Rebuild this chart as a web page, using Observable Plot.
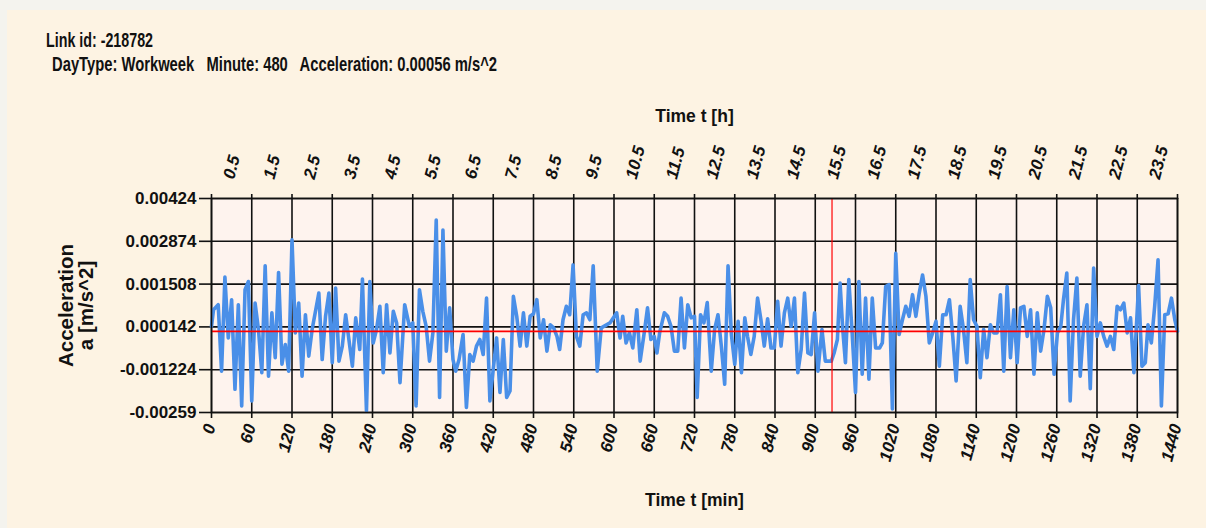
<!DOCTYPE html>
<html><head><meta charset="utf-8">
<script src="https://cdn.jsdelivr.net/npm/d3@7"></script>
<script src="https://cdn.jsdelivr.net/npm/@observablehq/plot@0.6"></script>
<style>
html,body{margin:0;padding:0;}
body{width:1206px;height:528px;background:#f4f3ee;position:relative;overflow:hidden;}
#panel{position:absolute;left:7px;top:10px;width:1199px;height:518px;background:#fdf3e3;}
.hd{position:absolute;font-family:"Liberation Sans",Arial,sans-serif;font-weight:bold;color:#111;white-space:pre;line-height:20px;font-size:20.5px;transform-origin:0 0;}
#t1{left:46px;top:30px;}
#t2{left:52px;top:54px;}
#chart{position:absolute;left:0;top:90px;}
</style>
</head><body>
<div id="panel"></div>
<div class="hd" id="t1"></div>
<div class="hd" id="t2"></div>
<div id="chart"></div>
<script>
const titleLine1 = "Link id: -218782";
const titleLine2 = "DayType: Workweek   Minute: 480   Acceleration: 0.00056 m/s^2";
const xTitleTop = "Time t [h]";
const xTitleBottom = "Time t [min]";
const yTitle = "Acceleration\na [m/s^2]";

const minuteTicks = [0,60,120,180,240,300,360,420,480,540,600,660,720,780,840,900,960,1020,1080,1140,1200,1260,1320,1380,1440];
const hourTicks = [0.5,1.5,2.5,3.5,4.5,5.5,6.5,7.5,8.5,9.5,10.5,11.5,12.5,13.5,14.5,15.5,16.5,17.5,18.5,19.5,20.5,21.5,22.5,23.5];
const yTicks = [0.00424,0.002874,0.001508,0.000142,-0.001224,-0.00259];
const yTickLabels = ["0.00424","0.002874","0.001508","0.000142","-0.001224","-0.00259"];
const refLevel = [0];
const markerMinute = [925];

// minute of day
const minutes = [0,3,10,15,20,25,30,35,40,45,50,55,60,65,70,75,80,85,90,95,100,105,110,115,120,125,130,135,140,145,150,160,165,170,175,180,185,190,195,200,210,215,221,225,231,236,241,246,251,256,261,266,271,276,281,288,
295,300,305,310,315,320,325,330,335,340,345,350,355,360,364,369,375,380,385,390,395,400,405,410,415,425,430,435,440,445,450,455,460,465,470,475,480,485,490,495,500,505,510,515,519,524,529,534,539,544,549,554,559,564,569,575,581,594,604,609,613,618,623,628,634,639,645,650,655,660,664,668,675,680,685,690,695,700,705,710,715,720,724,729,734,739,745,750,755,760,765,770,775,780,785,790,795,799,804,809,814,819,824,829,834,839,844,849,854,859,864,869,874,879,884,889,894,899,904,
910,915,920,924,928,933,937,941,945,950,955,960,965,970,975,980,985,990,996,1000,1005,1010,1015,1020,1025,1030,1035,1040,1045,1050,1055,1060,1065,1070,1075,1080,1085,1090,1095,1100,1105,1110,1116,1121,1126,1131,1136,1141,1146,1151,1156,1161,1166,1171,1176,1181,1186,1191,1196,1201,1206,1211,1216,1221,1226,1231,1236,1241,1246,1251,1256,1261,1266,1270,1275,1280,1285,1290,1295,1300,1305,1310,1315,1320,1325,1330,1335,1340,1345,1350,1355,1360,1365,1370,1375,1382,1387,1392,1396,1401,1406,1411,1416,1421,1426,1431,1436,1440];
// acceleration in 10^-3 m/s^2
const accelMilli = [0.16,0.69,0.85,-1.27,1.73,-0.21,1.01,-1.85,0.85,-2.38,1.33,1.59,-2.22,0.90,0.06,-1.32,2.09,-1.43,0.59,-0.84,1.88,-1.05,-0.42,-1.27,2.92,-0.05,0.90,-1.43,0.53,-0.79,0.06,1.22,-0.90,0.48,1.22,-1.00,1.38,-0.95,-0.47,0.53,-1.11,0.43,-0.58,1.67,-2.54,1.59,-0.37,0.06,0.80,-1.32,0.85,-0.69,0.64,0.27,-1.64,0.85,
0.16,0.27,-2.38,1.33,0.64,0.16,-0.95,-0.05,3.55,-2.11,3.23,-0.63,0.75,-0.90,-1.27,-0.90,-0.10,-2.43,-0.74,-0.95,-0.47,-0.26,-0.74,1.06,-2.22,-0.21,-1.95,-0.26,-2.11,-1.90,1.12,0.48,-0.47,0.59,-0.47,0.48,0.56,1.01,-0.21,0.37,-0.63,0.21,0.11,-0.16,-0.58,0.37,0.80,0.53,2.12,-0.16,-0.47,0.53,0.59,0.37,2.09,-1.27,0.11,0.27,0.59,-0.21,0.48,-0.37,-0.05,-0.53,0.69,-0.95,-0.05,0.75,-0.26,-0.16,-0.69,-0.05,0.59,0.48,0.16,-0.63,-0.63,1.06,-0.53,0.85,0.43,0.48,-2.11,0.53,0.27,0.92,-1.27,0.06,0.53,-0.47,-1.69,2.09,-0.10,-1.05,0.32,-1.32,0.43,-0.16,-0.74,-0.16,1.06,0.37,-0.47,0.40,-0.53,-0.53,0.96,-0.47,0.59,1.06,0.16,1.06,-1.32,-0.58,1.22,-0.69,-0.74,0.59,-1.27,
0.06,-0.95,-0.95,-0.95,-0.70,-0.26,1.54,0.06,-1.00,1.65,-0.05,-1.95,1.59,-1.37,1.06,-1.53,1.06,-0.53,-0.53,-0.37,1.43,1.49,-2.48,2.49,-0.10,0.37,0.80,0.48,1.17,0.48,1.22,1.80,1.12,-0.37,-0.05,0.32,-1.11,0.53,0.53,1.01,-0.16,-1.58,0.80,0.06,-1.00,1.65,0.37,0.16,-1.48,0.06,-0.84,0.21,-0.05,-0.05,1.17,-1.27,1.43,-0.84,0.69,-1.00,0.75,0.80,-0.16,0.69,-1.37,0.59,-0.63,0.06,1.12,0.75,-1.37,-0.05,0.16,1.01,1.86,-2.22,0.37,1.70,-1.43,0.16,0.85,-1.83,2.02,-0.16,0.27,-0.16,-0.47,-0.16,-0.58,0.80,0.69,0.90,-0.05,0.43,-1.32,1.46,-1.11,-1.00,0.21,-0.37,0.80,2.28,-2.38,0.53,0.56,1.06,0.37,0.00];

const series = minutes.map((m, i) => ({minute: m, accel: accelMilli[i] / 1000}));
const yLabelMap = new Map(yTicks.map((v, i) => [v, yTickLabels[i]]));

function fitWidth(id, text, target) {
  const el = document.getElementById(id);
  el.textContent = text;
  const w = el.getBoundingClientRect().width;
  el.style.transform = `scaleX(${target / w})`;
}
fitWidth("t1", titleLine1, 107);
fitWidth("t2", titleLine2, 445);

const sans = '"Liberation Sans",Arial,sans-serif';
const ink = "#111";

const chart = Plot.plot({
  width: 1206,
  height: 438,
  marginLeft: 211,
  marginRight: 29,
  marginTop: 108,
  marginBottom: 116,
  x: {domain: [0, 1440]},
  y: {domain: [-0.00259, 0.00424]},
  style: {background: "transparent", color: ink, fontFamily: sans, fontWeight: "bold", overflow: "visible"},
  marks: [
    Plot.frame({fill: "#fef3ee"}),
    Plot.ruleX(minuteTicks, {stroke: ink, strokeWidth: 1.6}),
    Plot.ruleY(yTicks, {stroke: ink, strokeWidth: 1.6}),
    Plot.axisX({anchor: "bottom", ticks: minuteTicks, tickSize: 6, tickFormat: () => "", stroke: ink, strokeWidth: 1.6, label: null}),
    Plot.axisX({anchor: "top", ticks: minuteTicks, tickSize: 5, tickFormat: () => "", stroke: ink, strokeWidth: 1.6, label: null}),
    Plot.axisY({anchor: "left", ticks: yTicks, tickSize: 12, tickPadding: 3, tickFormat: d => yLabelMap.get(d), fontSize: 17, fontFamily: sans, fontWeight: "bold", stroke: ink, strokeWidth: 1.6, label: null}),
    Plot.line(series, {x: "minute", y: "accel", stroke: "#4a8fe8", strokeWidth: 3.6, strokeLinejoin: "round", strokeLinecap: "round"}),
    Plot.ruleY(refLevel, {stroke: "#ff0000", strokeWidth: 1.6}),
    Plot.ruleX(markerMinute, {stroke: "#ff0000", strokeWidth: 1.2}),
    Plot.frame({stroke: ink, strokeWidth: 1.6}),
    Plot.text(minuteTicks, {x: d => d, frameAnchor: "bottom", dy: 12, dx: -1, rotate: -75, textAnchor: "end", lineAnchor: "middle", text: d => String(d), fontSize: 17, fontStyle: "italic", fontWeight: "bold", fontFamily: sans, fill: ink}),
    Plot.text(hourTicks, {x: d => d * 60, frameAnchor: "top", dy: -20, dx: -3, rotate: -75, textAnchor: "start", lineAnchor: "middle", text: d => d.toFixed(1), fontSize: 17, fontStyle: "italic", fontWeight: "bold", fontFamily: sans, fill: ink}),
    Plot.text([xTitleTop], {frameAnchor: "top", dy: -82, lineAnchor: "middle", textAnchor: "middle", fontSize: 17.5, fontFamily: sans, fontWeight: "bold", fill: ink}),
    Plot.text([xTitleBottom], {frameAnchor: "bottom", dy: 88, lineAnchor: "middle", textAnchor: "middle", fontSize: 17.5, fontFamily: sans, fontWeight: "bold", fill: ink}),
    Plot.text([yTitle], {frameAnchor: "left", dx: -135, rotate: -90, textAnchor: "middle", lineAnchor: "middle", lineHeight: 1.0, fontSize: 20.5, fontFamily: sans, fontWeight: "bold", fill: ink})
  ]
});
document.getElementById("chart").appendChild(chart);
</script>
</body></html>
